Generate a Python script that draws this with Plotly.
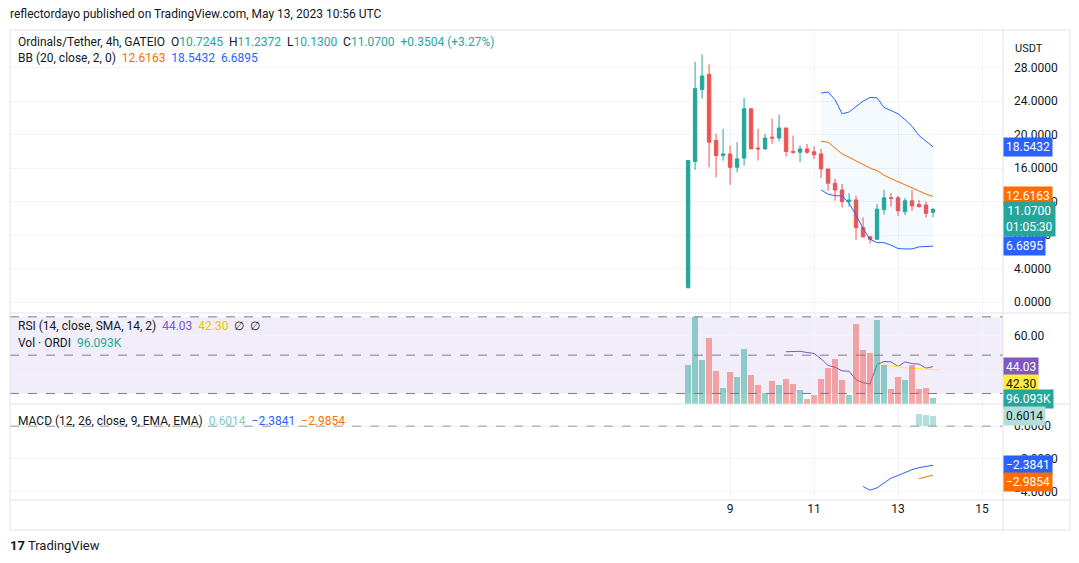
import plotly.graph_objects as go

# 4h candles, index 0 = May 8 00:00
opens = [1.71, 16.8, 25.4, 27.2, 19.3, 17.5, 17.7, 16.1, 17.2, 23.1, 18.4, 18.3, 19.7, 19.6, 20.8, 18.0, 17.9, 18.3,
         17.95, 17.7, 15.9, 14.2, 13.4, 12.0, 12.2, 8.9, 7.8, 7.5, 11.05, 12.45, 12.45, 10.8, 12.1, 11.65, 11.6, 10.7245]
highs = [16.9, 28.7, 29.6, 28.4, 20.1, 20.7, 18.7, 19.1, 24.4, 23.1, 20.7, 20.1, 21.9, 22.4, 20.8, 19.9, 18.7, 18.9,
         18.6, 18.3, 15.9, 14.75, 14.1, 13.0, 12.7, 10.1, 7.8, 11.7, 13.4, 13.0, 12.7, 12.45, 13.4, 12.2, 12.0, 11.2372]
lows = [1.71, 15.8, 24.3, 16.1, 14.9, 16.9, 14.0, 15.5, 16.3, 18.3, 16.9, 18.2, 18.9, 19.2, 17.4, 17.7, 16.7, 17.7,
        17.1, 14.8, 13.3, 12.1, 11.3, 11.4, 7.45, 7.7, 7.0, 7.5, 10.45, 11.4, 10.3, 10.4, 10.9, 11.3, 10.1, 10.13]
closes = [16.9, 25.5, 27.0, 19.1, 17.5, 17.7, 16.1, 17.1, 23.1, 18.3, 18.3, 19.6, 19.6, 20.8, 18.0, 17.9, 18.3, 17.9,
          17.6, 15.9, 14.2, 13.4, 12.0, 12.2, 8.9, 7.8, 7.5, 11.1, 12.45, 12.4, 10.9, 12.1, 11.5, 11.4, 10.6, 11.07]
volume_k = [593, 1346, 678, 1009, 513, 240, 497, 417, 849, 449, 288, 176, 352, 288, 384, 304, 208, 80, 144, 384, 561,
            689, 368, 144, 1234, 833, 785, 1298, 593, 224, 417, 368, 593, 224, 240, 96]

bb_start = 19
bb_upper = [24.97, 25.1, 24.17, 22.5, 22.7, 23.4, 24.0, 24.45, 24.4, 23.25, 22.9, 22.5, 21.8, 21.0, 19.9, 19.2, 18.5432]
bb_basis = [19.2, 19.1, 18.4, 17.7, 17.3, 16.9, 16.4, 16.0, 15.7, 15.15, 14.75, 14.36, 14.0, 13.6, 13.25, 12.9, 12.6163]
bb_lower = [13.4, 12.9, 12.7, 12.7, 11.8, 10.4, 8.8, 7.5, 7.1, 7.1, 6.8, 6.4, 6.35, 6.35, 6.6, 6.65, 6.6895]

rsi_start = 14
rsi = [51.8, 52.0, 52.0, 51.4, 50.9, 48.1, 44.6, 43.7, 41.8, 41.6, 37.2, 35.6, 35.0, 45.1, 46.7, 46.5, 44.1, 46.5,
       45.6, 45.3, 43.2, 44.03]
rsi_sma_start = 27
rsi_sma = [45.1, 44.8, 44.2, 43.9, 43.4, 43.1, 42.9, 42.6, 42.5, 42.30]

macd_start = 25
macd = [-3.68, -3.90, -3.76, -3.45, -3.17, -3.01, -2.81, -2.65, -2.53, -2.44, -2.3841]
signal_start = 33
signal = [-3.2, -3.1, -2.9854]
hist = [0.73, 0.66, 0.6014]

day_ticks = [6, 18, 30, 42]
day_labels = ["9", "11", "13", "15"]

UP, DOWN = "#26a69a", "#ef5350"
n = len(closes)
idx = list(range(n))

fig = go.Figure()

# Bollinger fill + lines
bx = list(range(bb_start, bb_start + len(bb_upper)))
fig.add_trace(go.Scatter(x=bx, y=bb_upper, mode="lines", line=dict(color="#2962ff", width=1), yaxis="y"))
fig.add_trace(go.Scatter(x=bx, y=bb_lower, mode="lines", line=dict(color="#2962ff", width=1),
                         fill="tonexty", fillcolor="rgba(33,150,243,0.05)", yaxis="y"))
fig.add_trace(go.Scatter(x=bx, y=bb_basis, mode="lines", line=dict(color="#ff6d00", width=1), yaxis="y"))

fig.add_trace(go.Candlestick(x=idx, open=opens, high=highs, low=lows, close=closes, yaxis="y",
                             increasing=dict(line=dict(color=UP, width=1), fillcolor=UP),
                             decreasing=dict(line=dict(color=DOWN, width=1), fillcolor=DOWN),
                             whiskerwidth=0))

# volume overlay in RSI pane
vcol = ["rgba(38,166,154,0.5)" if c >= o else "rgba(239,83,80,0.5)" for o, c in zip(opens, closes)]
fig.add_trace(go.Bar(x=idx, y=volume_k, marker_color=vcol, marker_line_width=0, width=0.8, yaxis="y3"))

rx = list(range(rsi_start, rsi_start + len(rsi)))
fig.add_trace(go.Scatter(x=rx, y=rsi, mode="lines", line=dict(color="#7e57c2", width=1), yaxis="y2"))
sx = list(range(rsi_sma_start, rsi_sma_start + len(rsi_sma)))
fig.add_trace(go.Scatter(x=sx, y=rsi_sma, mode="lines", line=dict(color="#ffeb3b", width=1), yaxis="y2"))

mx = list(range(macd_start, macd_start + len(macd)))
gx = list(range(signal_start, signal_start + len(signal)))
fig.add_trace(go.Bar(x=gx, y=hist, marker_color="#b2dfdb", marker_line_width=0, width=0.8, yaxis="y4"))
fig.add_trace(go.Scatter(x=mx, y=macd, mode="lines", line=dict(color="#2962ff", width=1), yaxis="y4"))
fig.add_trace(go.Scatter(x=gx, y=signal, mode="lines", line=dict(color="#ff6d00", width=1), yaxis="y4"))

# page has an 8px body margin; work in screen pixels and shift
OFF = 8
W, H = 1079, 563
T, B, L, R = 30 - OFF, 63 + OFF, 10 - OFF, 76 + OFF
PH = H - T - B
PW = W - L - R

def py(pix):
    return (H - B - (pix - OFF)) / PH

def px(pix):
    return (pix - OFF - L) / PW

grid = "#f0f3fa"
ax = dict(side="right", showgrid=True, gridcolor=grid, zeroline=False, ticks="", anchor="x",
          tickfont=dict(size=12, color="#131722"), showline=False, fixedrange=True, ticklabelstandoff=10)

fig.update_layout(
    width=W, height=H, margin=dict(l=L, r=R, t=T, b=B),
    paper_bgcolor="white", plot_bgcolor="white", showlegend=False, bargap=0,
    font=dict(family="Roboto, Noto Sans, sans-serif", color="#131722"),
    xaxis=dict(range=[-96.9, 45], anchor="y4", showgrid=True, gridcolor=grid, zeroline=False, tickvals=day_ticks,
               ticktext=day_labels, rangeslider=dict(visible=False), ticks="", tickfont=dict(size=12),
               showline=False),
    yaxis=dict(ax, domain=[py(313), py(30)], range=[-1.3, 32.5], tickvals=[0, 4, 8, 12, 16, 20, 24, 28],
               tickformat=".4f"),
    yaxis2=dict(ax, domain=[py(404), py(313)], range=[24.5, 72], tickvals=[40, 60], ticktext=["", "60.00"]),
    yaxis3=dict(ax, domain=[py(404), py(313)], overlaying="y2", range=[0, 1400], showgrid=False,
                showticklabels=False),
    yaxis4=dict(ax, domain=[py(500), py(404)], range=[-4.5, 1.35], tickvals=[-4, -2, 0],
                ticktext=["−4.0000", "−2.0000", "0.0000"]),
)

# RSI band fill and dashed levels
fig.add_shape(type="rect", xref="paper", x0=0, x1=1, yref="y2", y0=30, y1=70,
              fillcolor="rgba(126,87,194,0.1)", line_width=0, layer="below")
for lv in [70, 50, 30]:
    fig.add_shape(type="line", xref="paper", x0=0, x1=1, yref="y2", y0=lv, y1=lv,
                  line=dict(color="#787b86", width=1, dash="dash"))
fig.add_shape(type="line", xref="paper", x0=0, x1=1, yref="y4", y0=0, y1=0,
              line=dict(color="#9598a1", width=1, dash="dash"))
# pane borders
border = dict(color="#e0e3eb", width=1)
for p in [313, 404, 500]:
    fig.add_shape(type="line", xref="paper", x0=0, x1=px(1070), yref="paper", y0=py(p), y1=py(p), line=border)
for xp in [10, 1003, 1070]:
    fig.add_shape(type="line", xref="paper", x0=px(xp), x1=px(xp), yref="paper", y0=py(530), y1=py(30),
                  line=border)
for yp in [30, 530]:
    fig.add_shape(type="line", xref="paper", x0=px(10), x1=px(1070), yref="paper", y0=py(yp), y1=py(yp),
                  line=border)

# right-side value labels
def tag(text, yref, y, bg, fc="white"):
    fig.add_annotation(xref="paper", x=1.0, xanchor="left", yref=yref, y=y, text=text, showarrow=False,
                       bgcolor=bg, font=dict(size=12, color=fc), borderpad=2)

tag("18.5432", "y", bb_upper[-1], "#2962ff")
tag("12.6163", "y", bb_basis[-1], "#ff6d00")
tag("11.0700<br>01:05:30", "y", 9.9, UP)
tag("6.6895", "y", bb_lower[-1], "#2962ff")
tag("44.03", "y2", rsi[-1], "#7e57c2")
tag("42.30", "y2", 34.7, "#ffeb3b", "#131722")
tag("96.093K", "y2", 27.3, UP)
tag("0.6014", "y4", hist[-1], "#b2dfdb", "#131722")
tag("−2.3841", "y4", macd[-1], "#2962ff")
tag("−2.9854", "y4", -3.4, "#ff6d00")
fig.add_annotation(xref="paper", x=px(1013), xanchor="left", yref="paper", y=py(40), text="USDT",
                   showarrow=False, font=dict(size=11))

def legend(text, ypix):
    fig.add_annotation(xref="paper", x=px(16), xanchor="left", yref="paper", y=py(ypix), yanchor="middle",
                       text=text, showarrow=False, align="left", font=dict(size=12, color="#131722"))

g = "<span style='color:#26a69a'>%s</span>"
legend("Ordinals/Tether, 4h, GATEIO  O" + g % "10.7245" + "  H" + g % "11.2372" + "  L" + g % "10.1300"
       + "  C" + g % "11.0700" + "  " + g % "+0.3504 (+3.27%)", 42)
legend("BB (20, close, 2, 0)  <span style='color:#ff6d00'>12.6163</span>  "
       "<span style='color:#2962ff'>18.5432</span>  <span style='color:#2962ff'>6.6895</span>", 58)
legend("RSI (14, close, SMA, 14, 2)  <span style='color:#7e57c2'>44.03</span>  "
       "<span style='color:#e6c800'>42.30</span>  ∅  ∅", 326)
legend("Vol · ORDI  " + g % "96.093K", 343)
legend("MACD (12, 26, close, 9, EMA, EMA)  <span style='color:#80cbc4'>0.6014</span>  "
       "<span style='color:#2962ff'>−2.3841</span>  <span style='color:#ff6d00'>−2.9854</span>", 421)

fig.add_annotation(xref="paper", x=px(8), xanchor="left", yref="paper", y=py(14), yanchor="middle",
                   text="reflectordayo published on TradingView.com, May 13, 2023 10:56 UTC",
                   showarrow=False, font=dict(size=12))
fig.add_annotation(xref="paper", x=px(8), xanchor="left", yref="paper", y=py(545), yanchor="middle",
                   text="<b>17</b> TradingView", showarrow=False, font=dict(size=13))

fig.write_html("out.html")
